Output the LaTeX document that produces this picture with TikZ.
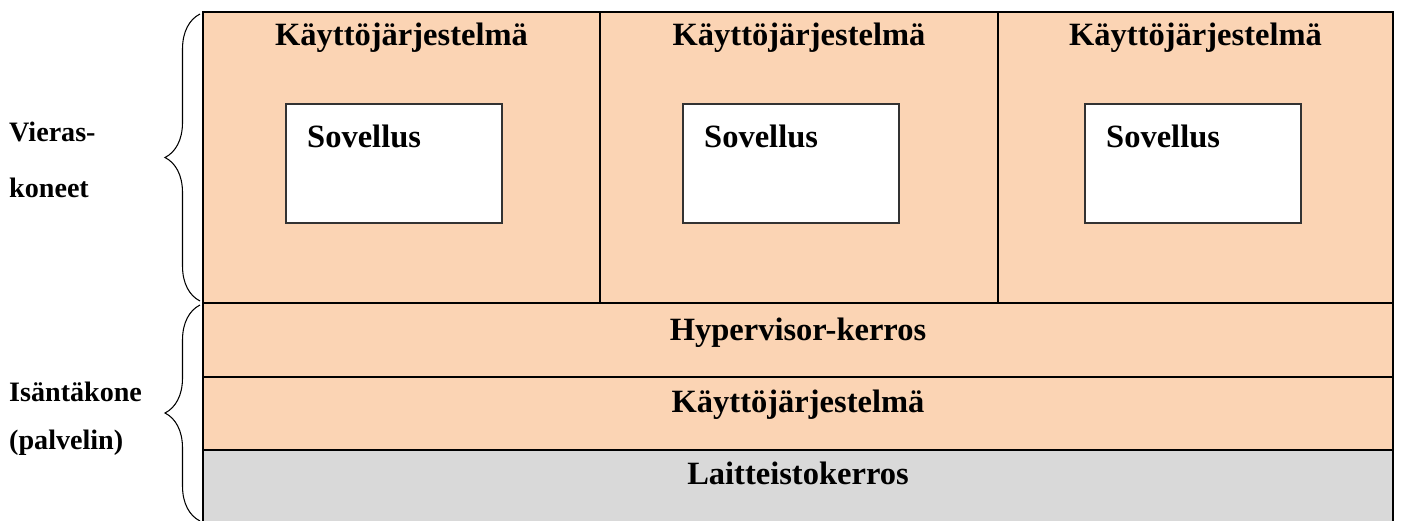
\documentclass[tikz,border=0pt]{standalone}
\usepackage{fontspec}
\setmainfont{Liberation Serif}
\usetikzlibrary{decorations.pathreplacing}

\definecolor{peach}{HTML}{FBD4B4}
\definecolor{hwgray}{HTML}{D9D9D9}

\tikzset{
  layer/.style={draw, line width=1.1pt},
  appbox/.style={draw=black!80, line width=0.8pt, fill=white},
  title/.style={font=\fontsize{18.5}{22}\selectfont\bfseries, anchor=base},
  side/.style={font=\fontsize{16}{19}\selectfont\bfseries, anchor=base west},
  curly/.style={decorate, decoration={brace, amplitude=0.7cm}, line width=0.6pt}
}

\begin{document}
\begin{tikzpicture}[x=0.02cm, y=-0.02cm]
  \useasboundingbox (0,0) rectangle (1401,521);
  \clip (0,0) rectangle (1401,521);

  % guest machines
  \draw [layer, fill=peach] (203,12) rectangle (1393,303);
  \draw [layer] (600,12) -- (600,303);
  \draw [layer] (998,12) -- (998,303);
  \foreach \x/\c in {286/401.5, 683/799, 1085/1195.5} {
    \draw [appbox] (\x,104) rectangle (\x+216,223);
    \node [title] (os\x) at (\c,45) {Käyttöjärjestelmä};
    \node [title, anchor=base west] (app\x) at (\x+15,147) {Sovellus};
  }

  % host layers
  \draw [layer, fill=peach] (203,303) rectangle (1393,377);
  \draw [layer, fill=peach] (203,377) rectangle (1393,450);
  \draw [layer, fill=hwgray] (203,450) rectangle (1393,540);
    \node [title] (hyper) at (798,340) {Hypervisor-kerros};
    \node [title] (hostos) at (798,412) {Käyttöjärjestelmä};
    \node [title] (hw) at (798,484) {Laitteistokerros};

  % braces and labels
  \coordinate (gtop) at (200,14);
  \coordinate (gbot) at (200,301);
  \coordinate (htop) at (200,305);
  \coordinate (hbot) at (200,521);
  \draw [curly] (gbot) -- (gtop);
  \draw [curly] (hbot) -- (htop);
  \node [side] (guestA) at (3,141) {Vieras-};
  \node [side] (guestB) at (3,197) {koneet};
  \node [side] (hostA) at (3,401) {Isäntäkone};
  \node [side] (hostB) at (3,449) {(palvelin)};
\end{tikzpicture}
\end{document}
